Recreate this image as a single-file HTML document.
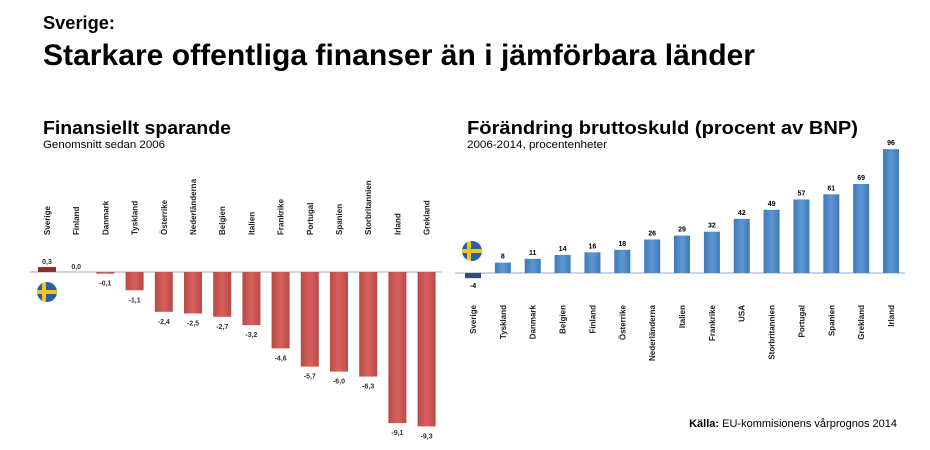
<!DOCTYPE html>
<html><head><meta charset="utf-8"><style>
body{margin:0;background:#fff;}
svg{display:block;font-family:"Liberation Sans",sans-serif;}
</style></head><body>
<svg width="930" height="450" viewBox="0 0 930 450" xmlns="http://www.w3.org/2000/svg">
<defs>
<linearGradient id="r" x1="0" x2="1"><stop offset="0" stop-color="#b84a48"/><stop offset="0.5" stop-color="#d9605c"/><stop offset="1" stop-color="#b84a48"/></linearGradient>
<linearGradient id="b" x1="0" x2="1"><stop offset="0" stop-color="#3f78b8"/><stop offset="0.5" stop-color="#5d97d3"/><stop offset="1" stop-color="#3f78b8"/></linearGradient>
<clipPath id="c1"><circle cx="47" cy="292" r="10"/></clipPath>
<clipPath id="c2"><circle cx="472" cy="251" r="10"/></clipPath>
</defs>
<text x="43" y="29" font-size="18" font-weight="bold" textLength="72" lengthAdjust="spacingAndGlyphs">Sverige:</text>
<text x="43" y="65" font-size="30" font-weight="bold" textLength="712" lengthAdjust="spacingAndGlyphs">Starkare offentliga finanser än i jämförbara länder</text>
<text x="43" y="134" font-size="18" font-weight="bold" textLength="188" lengthAdjust="spacingAndGlyphs">Finansiellt sparande</text>
<text x="43" y="148" font-size="11" textLength="122" lengthAdjust="spacingAndGlyphs">Genomsnitt sedan 2006</text>
<text x="467" y="134" font-size="18" font-weight="bold" textLength="391" lengthAdjust="spacingAndGlyphs">Förändring bruttoskuld (procent av BNP)</text>
<text x="467" y="148" font-size="11" textLength="140" lengthAdjust="spacingAndGlyphs">2006-2014, procentenheter</text>
<text x="897" y="427" font-size="11" text-anchor="end"><tspan font-weight="bold">Källa:</tspan> EU-kommisionens vårprognos 2014</text>
<g id="left"></g><g id="right"></g>
<g clip-path="url(#c1)"><rect x="36" y="281" width="22" height="22" fill="#2a5ea8"/><rect x="36" y="290" width="22" height="4" fill="#f5c518"/><rect x="42" y="281" width="4" height="22" fill="#f5c518"/></g>
<g clip-path="url(#c2)"><rect x="461" y="240" width="22" height="22" fill="#2a5ea8"/><rect x="461" y="249" width="22" height="4" fill="#f5c518"/><rect x="467" y="240" width="4" height="22" fill="#f5c518"/></g>
</svg>
<script>
var NS="http://www.w3.org/2000/svg";
function el(p,t,a,txt){var e=document.createElementNS(NS,t);for(var k in a)e.setAttribute(k,a[k]);if(txt!==undefined)e.textContent=txt;p.appendChild(e);return e;}
var L=document.getElementById("left"),R=document.getElementById("right");
var ln=["Sverige","Finland","Danmark","Tyskland","Österrike","Nederländerna","Belgien","Italien","Frankrike","Portugal","Spanien","Storbritannien","Irland","Grekland"];
var lv=[0.3,0.0,-0.1,-1.1,-2.4,-2.5,-2.7,-3.2,-4.6,-5.7,-6.0,-6.3,-9.1,-9.3];
var ay=272,s=16.6;
el(L,"line",{x1:30,y1:ay,x2:442,y2:ay,stroke:"#9aa9c4","stroke-width":1});
lv.forEach(function(v,i){var cx=47+i*29.2;var h=Math.abs(v)*s;
 if(i==0)el(L,"rect",{x:cx-9,y:ay-h,width:18,height:h,fill:"#8a2e2e"});
 else if(h>0)el(L,"rect",{x:cx-9,y:ay,width:18,height:Math.max(h,1),fill:"url(#r)"});
 var ty=v>=0?ay-v*s-3:ay+h+12;
 el(L,"text",{x:cx,y:ty,"font-size":7,"font-weight":"bold","text-anchor":"middle",fill:"#333"},v.toFixed(1).replace(".",",").replace("-0,0","0,0"));
 el(L,"text",{x:0,y:0,"font-size":8,"font-weight":"bold","transform":"translate("+(cx+3)+",235) rotate(-90)",fill:"#222"},ln[i]);
});
var rn=["Sverige","Tyskland","Danmark","Belgien","Finland","Österrike","Nederländerna","Italien","Frankrike","USA","Storbritannien","Portugal","Spanien","Grekland","Irland"];
var rv=[-4,8,11,14,16,18,26,29,32,42,49,57,61,69,96];
var by=273,k=1.29;
el(R,"line",{x1:455,y1:by,x2:905,y2:by,stroke:"#9aa9c4","stroke-width":1});
rv.forEach(function(v,i){var cx=473+i*29.86;var h=Math.abs(v)*k;
 if(v<0){el(R,"rect",{x:cx-8,y:by,width:16,height:h,fill:"#2f4f82"});el(R,"text",{x:cx,y:by+h+10,"font-size":7,"font-weight":"bold","text-anchor":"middle"},v);}
 else{el(R,"rect",{x:cx-8,y:by-h,width:16,height:h,fill:"url(#b)"});el(R,"text",{x:cx,y:by-h-4,"font-size":7,"font-weight":"bold","text-anchor":"middle"},v);}
 el(R,"text",{x:0,y:0,"font-size":8,"font-weight":"bold","text-anchor":"end","transform":"translate("+(cx+3)+",305) rotate(-90)",fill:"#222"},rn[i]);
});
</script>
</body></html>
